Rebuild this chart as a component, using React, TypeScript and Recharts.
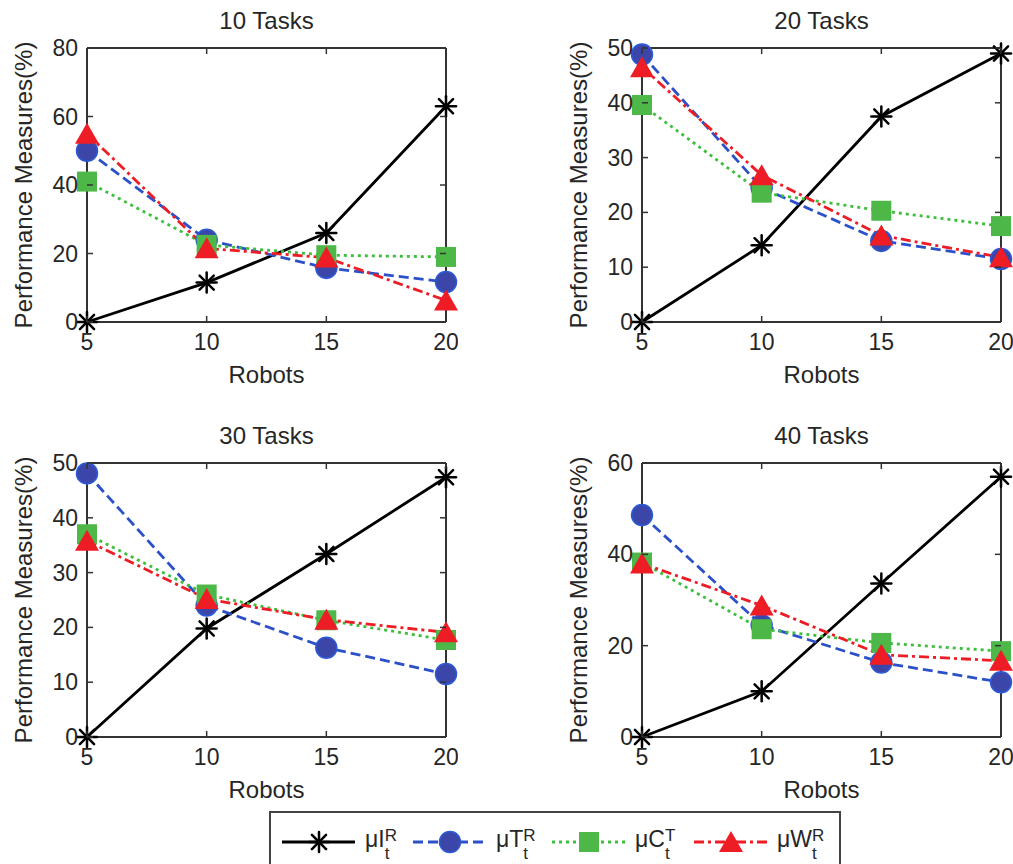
import React from "react";
import { LineChart, Line, XAxis, YAxis, ReferenceLine } from "recharts";

// x axis: number of robots
const robots = [5, 10, 15, 20];

// 10 tasks
const tasks10I = [0, 11.5, 26, 63];
const tasks10T = [50, 24, 15.8, 11.7];
const tasks10C = [41, 22.5, 19.5, 19];
const tasks10W = [55, 21.5, 18.8, 6.3];

// 20 tasks
const tasks20I = [0, 14, 37.5, 49];
const tasks20T = [48.8, 24.5, 14.8, 11.5];
const tasks20C = [39.6, 23.6, 20.3, 17.5];
const tasks20W = [46.5, 26.8, 15.8, 11.8];

// 30 tasks
const tasks30I = [0, 19.8, 33.4, 47.4];
const tasks30T = [48.1, 24, 16.3, 11.5];
const tasks30C = [37, 26, 21.3, 17.7];
const tasks30W = [35.8, 25.2, 21.4, 19.1];

// 40 tasks
const tasks40I = [0, 10, 33.6, 57];
const tasks40T = [48.6, 24.5, 16.3, 12];
const tasks40C = [38.2, 23.6, 20.6, 18.8];
const tasks40W = [38, 28.8, 18, 16.7];

const ticks80 = [0, 20, 40, 60, 80];
const ticks50 = [0, 10, 20, 30, 40, 50];
const ticks60 = [0, 20, 40, 60];

const FONT = '"Liberation Sans", Arial, Helvetica, sans-serif';
const TEXT = "#262626";
const AXIS = "#333";

const CHART_W = 458;
const PLOT_LEFT = 87;
const PLOT_RIGHT = 446;
const PLOT_H = 274;
const Y_AXIS_W = 60;
const X_AXIS_H = 60;

const Star = ({ cx, cy }: any) => {
  const r = 10;
  const d = r * 0.707;
  return (
    <g stroke="#000" strokeWidth={2.5} strokeLinecap="round">
      <line x1={cx - r} y1={cy} x2={cx + r} y2={cy} />
      <line x1={cx} y1={cy - r} x2={cx} y2={cy + r} />
      <line x1={cx - d} y1={cy - d} x2={cx + d} y2={cy + d} />
      <line x1={cx - d} y1={cy + d} x2={cx + d} y2={cy - d} />
    </g>
  );
};

const Circle = ({ cx, cy }: any) => (
  <circle cx={cx} cy={cy} r={10.5} fill="#3c46a8" stroke="#2b5ad6" strokeWidth={1.5} />
);

const Square = ({ cx, cy }: any) => (
  <rect x={cx - 10} y={cy - 10} width={20} height={20} fill="#4db848" />
);

const Triangle = ({ cx, cy }: any) => (
  <polygon
    points={`${cx},${cy - 11} ${cx - 12},${cy + 10} ${cx + 12},${cy + 10}`}
    fill="#ee1c24"
  />
);

const series = [
  { key: "I", letter: "I", sup: "R", color: "#000000", dash: undefined, Marker: Star },
  { key: "T", letter: "T", sup: "R", color: "#2b50c8", dash: "10 5", Marker: Circle },
  { key: "C", letter: "C", sup: "T", color: "#3dbf3d", dash: "3 4", Marker: Square },
  { key: "W", letter: "W", sup: "R", color: "#ee1c24", dash: "10 4 3 4", Marker: Triangle },
];

const panels = [
  { title: "10 Tasks", left: 0, top: 0, height: 410, plotTop: 48, yMax: 80, yTicks: ticks80, I: tasks10I, T: tasks10T, C: tasks10C, W: tasks10W },
  { title: "20 Tasks", left: 555, top: 0, height: 410, plotTop: 48, yMax: 50, yTicks: ticks50, I: tasks20I, T: tasks20T, C: tasks20C, W: tasks20W },
  { title: "30 Tasks", left: 0, top: 410, height: 400, plotTop: 53, yMax: 50, yTicks: ticks50, I: tasks30I, T: tasks30T, C: tasks30C, W: tasks30W },
  { title: "40 Tasks", left: 555, top: 410, height: 400, plotTop: 53, yMax: 60, yTicks: ticks60, I: tasks40I, T: tasks40T, C: tasks40C, W: tasks40W },
];

const textStyle = { fontFamily: FONT, fill: TEXT } as const;

function Panel(p: any) {
  const rows = robots.map((r, i) => ({ robots: r, I: p.I[i], T: p.T[i], C: p.C[i], W: p.W[i] }));
  const plotTop = p.plotTop;
  const plotBottom = plotTop + PLOT_H;
  const midX = (PLOT_LEFT + PLOT_RIGHT) / 2;

  const XTick = ({ x, payload }: any) => (
    <g>
      <text x={x} y={plotBottom + 20} textAnchor="middle" dominantBaseline="central" fontSize={23} {...textStyle}>
        {payload.value}
      </text>
      <line x1={x} x2={x} y1={plotBottom} y2={plotBottom - 6} stroke={AXIS} strokeWidth={1.5} />
      <line x1={x} x2={x} y1={plotTop} y2={plotTop + 6} stroke={AXIS} strokeWidth={1.5} />
    </g>
  );

  const YTick = ({ y, payload }: any) => (
    <g>
      <text x={PLOT_LEFT - 9} y={y} textAnchor="end" dominantBaseline="central" fontSize={23} {...textStyle}>
        {payload.value}
      </text>
      <line x1={PLOT_LEFT} x2={PLOT_LEFT + 6} y1={y} y2={y} stroke={AXIS} strokeWidth={1.5} />
      <line x1={PLOT_RIGHT} x2={PLOT_RIGHT - 6} y1={y} y2={y} stroke={AXIS} strokeWidth={1.5} />
    </g>
  );

  return (
    <div style={{ position: "absolute", left: p.left, top: p.top }}>
      <LineChart
        width={CHART_W}
        height={p.height}
        data={rows}
        margin={{
          top: plotTop,
          right: CHART_W - PLOT_RIGHT,
          bottom: p.height - plotBottom - X_AXIS_H,
          left: PLOT_LEFT - Y_AXIS_W,
        }}
      >
        <XAxis
          dataKey="robots"
          type="number"
          domain={[5, 20]}
          ticks={robots}
          height={X_AXIS_H}
          axisLine={{ stroke: AXIS, strokeWidth: 2 }}
          tickLine={false}
          tick={XTick}
          label={() => (
            <text x={midX} y={plotBottom + 52} textAnchor="middle" dominantBaseline="central" fontSize={24} {...textStyle}>
              Robots
            </text>
          )}
        />
        <YAxis
          width={Y_AXIS_W}
          type="number"
          domain={[0, p.yMax]}
          ticks={p.yTicks}
          axisLine={{ stroke: AXIS, strokeWidth: 2 }}
          tickLine={false}
          tick={YTick}
          label={() => (
            <text
              transform={`translate(${PLOT_LEFT - 64}, ${(plotTop + plotBottom) / 2}) rotate(-90)`}
              textAnchor="middle"
              dominantBaseline="central"
              fontSize={24}
              {...textStyle}
            >
              Performance Measures(%)
            </text>
          )}
        />
        <ReferenceLine
          y={p.yMax}
          stroke={AXIS}
          strokeWidth={2}
          label={() => (
            <text x={midX} y={plotTop - 28} textAnchor="middle" dominantBaseline="central" fontSize={24} {...textStyle}>
              {p.title}
            </text>
          )}
        />
        <ReferenceLine x={20} stroke={AXIS} strokeWidth={2} />
        {series.map((s) => (
          <Line
            key={s.key}
            dataKey={s.key}
            type="linear"
            stroke={s.color}
            strokeWidth={2.8}
            strokeDasharray={s.dash}
            dot={(d: any) => <s.Marker key={`${s.key}-${d.index}`} cx={d.cx} cy={d.cy} />}
            activeDot={false}
            isAnimationActive={false}
          />
        ))}
      </LineChart>
    </div>
  );
}

const legendX = [13, 144, 283, 425];

function LegendBox() {
  return (
    <svg width={572} height={53} style={{ position: "absolute", left: 269, top: 811 }}>
      <rect x={1} y={1} width={570} height={80} fill="#fff" stroke="#444" strokeWidth={2} />
      {series.map((s, i) => {
        const x0 = legendX[i];
        return (
          <g key={s.key}>
            <line x1={x0} x2={x0 + 73} y1={31} y2={31} stroke={s.color} strokeWidth={2.8} strokeDasharray={s.dash} />
            <s.Marker cx={x0 + 37} cy={31} />
            <text x={x0 + 83} y={36} fontSize={23} {...textStyle}>
              {"\u03bc" + s.letter}
              <tspan fontSize={17} dy={12}>t</tspan>
              <tspan fontSize={17} dx={-4.7} dy={-18}>{s.sup}</tspan>
            </text>
          </g>
        );
      })}
    </svg>
  );
}

export default function App() {
  return (
    <div
      style={{
        position: "absolute",
        left: 0,
        top: 0,
        width: 1013,
        height: 864,
        overflow: "hidden",
        background: "#fff",
        fontFamily: FONT,
      }}
    >
      {panels.map((p) => (
        <Panel key={p.title} {...p} />
      ))}
      <LegendBox />
    </div>
  );
}
